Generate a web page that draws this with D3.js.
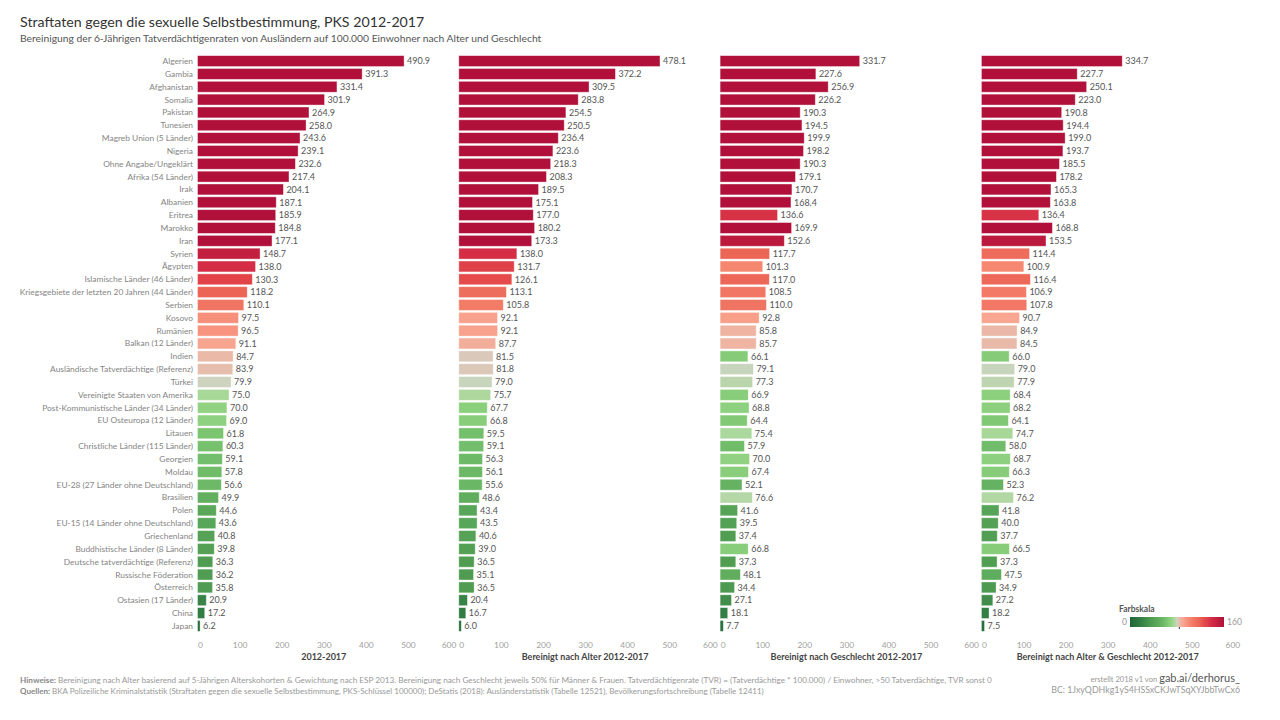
<!DOCTYPE html>
<html><head><meta charset="utf-8">
<script src="https://cdn.jsdelivr.net/npm/d3@7"></script>
<style>
html,body{margin:0;padding:0;background:#fff;}
svg{display:block;font-family:Lato,"Open Sans",sans-serif;}
</style></head>
<body><svg id="c" width="1280" height="720"></svg>
<script>
const categories = ["Algerien","Gambia","Afghanistan","Somalia","Pakistan","Tunesien","Magreb Union (5 Länder)","Nigeria","Ohne Angabe/Ungeklärt","Afrika (54 Länder)","Irak","Albanien","Eritrea","Marokko","Iran","Syrien","Ägypten","Islamische Länder (46 Länder)","Kriegsgebiete der letzten 20 Jahren (44 Länder)","Serbien","Kosovo","Rumänien","Balkan (12 Länder)","Indien","Ausländische Tatverdächtige (Referenz)","Türkei","Vereinigte Staaten von Amerika","Post-Kommunistische Länder (34 Länder)","EU Osteuropa (12 Länder)","Litauen","Christliche Länder (115 Länder)","Georgien","Moldau","EU-28 (27 Länder ohne Deutschland)","Brasilien","Polen","EU-15 (14 Länder ohne Deutschland)","Griechenland","Buddhistische Länder (8 Länder)","Deutsche tatverdächtige (Referenz)","Russische Föderation","Österreich","Ostasien (17 Länder)","China","Japan"];

const rate2012_2017 = [490.9,391.3,331.4,301.9,264.9,258.0,243.6,239.1,232.6,217.4,204.1,187.1,185.9,184.8,177.1,148.7,138.0,130.3,118.2,110.1,97.5,96.5,91.1,84.7,83.9,79.9,75.0,70.0,69.0,61.8,60.3,59.1,57.8,56.6,49.9,44.6,43.6,40.8,39.8,36.3,36.2,35.8,20.9,17.2,6.2];
const rateAlter = [478.1,372.2,309.5,283.8,254.5,250.5,236.4,223.6,218.3,208.3,189.5,175.1,177.0,180.2,173.3,138.0,131.7,126.1,113.1,105.8,92.1,92.1,87.7,81.5,81.8,79.0,75.7,67.7,66.8,59.5,59.1,56.3,56.1,55.6,48.6,43.4,43.5,40.6,39.0,36.5,35.1,36.5,20.4,16.7,6.0];
const rateGeschlecht = [331.7,227.6,256.9,226.2,190.3,194.5,199.9,198.2,190.3,179.1,170.7,168.4,136.6,169.9,152.6,117.7,101.3,117.0,108.5,110.0,92.8,85.8,85.7,66.1,79.1,77.3,66.9,68.8,64.4,75.4,57.9,70.0,67.4,52.1,76.6,41.6,39.5,37.4,66.8,37.3,48.1,34.4,27.1,18.1,7.7];
const rateAlterGeschlecht = [334.7,227.7,250.1,223.0,190.8,194.4,199.0,193.7,185.5,178.2,165.3,163.8,136.4,168.8,153.5,114.4,100.9,116.4,106.9,107.8,90.7,84.9,84.5,66.0,79.0,77.9,68.4,68.2,64.1,74.7,58.0,68.7,66.3,52.3,76.2,41.8,40.0,37.7,66.5,37.3,47.5,34.9,27.2,18.2,7.5];

const panelTitles = ["2012-2017","Bereinigt nach Alter 2012-2017","Bereinigt nach Geschlecht 2012-2017","Bereinigt nach Alter & Geschlecht 2012-2017"];
const xTicks = [0,100,200,300,400,500,600];
const colorStops = [0,18,36,45,56,66,70,75,77.5,79.5,81,84,86,91,97,105,110,118,126,132,138,148,160];
const colorValues = ["#1f6636","#337e44","#4f9c52","#5aa85a","#6bb866","#86cc78","#90d282","#a8d898","#bcd5ae","#c9d5c0","#d8ccbc","#e6bcad","#f0b3a0","#f8a590","#f7917c","#f47e68","#f07462","#ec6556","#e54b4a","#df4049","#d42d45","#c4203f","#b0103a"];

const series = [rate2012_2017, rateAlter, rateGeschlecht, rateAlterGeschlecht];

const svg = d3.select("#c");
const color = d3.scaleLinear().domain(colorStops).range(colorValues).clamp(true);

// Title
svg.append("text").attr("x",20).attr("y",27).attr("font-size",14.2).attr("fill","#333")
  .text("Straftaten gegen die sexuelle Selbstbestimmung, PKS 2012-2017");
svg.append("text").attr("x",20).attr("y",42).attr("font-size",10.3).attr("fill","#555")
  .text("Bereinigung der 6-Jährigen Tatverdächtigenraten von Ausländern auf 100.000 Einwohner nach Alter und Geschlecht");

const y = d3.scaleBand().domain(categories).range([54.6, 632.4]).paddingInner(0.15).paddingOuter(0.08);

// category labels
svg.append("g").selectAll("text").data(categories).join("text")
  .attr("x",193).attr("y",d=>y(d)+y.bandwidth()/2).attr("dy","0.35em")
  .attr("text-anchor","end").attr("font-size",8.4).attr("fill","#858585").text(d=>d);

const panelX0 = 197.5, panelStep = 261.3, panelW = 252.5;
series.forEach((vals,i)=>{
  const x0 = panelX0 + i*panelStep;
  const x = d3.scaleLinear().domain([0,600]).range([x0, x0+panelW]);
  const g = svg.append("g");
  g.selectAll("rect").data(vals).join("rect")
    .attr("x",x(0)).attr("y",(d,j)=>y(categories[j]))
    .attr("width",d=>x(d)-x(0)).attr("height",y.bandwidth())
    .attr("fill",d=>color(d)).attr("stroke","#fff").attr("stroke-opacity",0.5).attr("stroke-width",0.8);
  g.selectAll("text.v").data(vals).join("text").attr("class","v")
    .attr("x",d=>x(d)+3).attr("y",(d,j)=>y(categories[j])+y.bandwidth()/2).attr("dy","0.36em")
    .attr("font-size",9).attr("fill","#555").text(d=>d3.format(".1f")(d));
  const ax = svg.append("g").attr("transform",`translate(0,636)`)
    .call(d3.axisBottom(x).tickValues(xTicks).tickSize(0).tickPadding(6).tickFormat(d3.format("d")));
  ax.select(".domain").remove();
  ax.selectAll("text").attr("font-size",8.4).attr("fill","#a0a0a0").attr("font-family","Lato,sans-serif")
    .attr("dx",d=>d===0?2.5:(d===600?-1.5:0));
  svg.append("text").attr("x",x0+panelW/2).attr("y",660).attr("text-anchor","middle")
    .attr("font-size",9).attr("font-weight","bold").attr("fill","#444").text(panelTitles[i]);
});

// Legend
const lg = svg.append("g");
const defs = svg.append("defs");
const grad = defs.append("linearGradient").attr("id","lgrad").attr("x1","0%").attr("x2","100%");
d3.range(0,161,2).forEach(v=>{
  grad.append("stop").attr("offset",(v/160*100)+"%").attr("stop-color",color(v));
});
const lx = d3.scaleLinear().domain([0,160]).range([1130,1224]);
lg.append("text").attr("x",1119).attr("y",612).attr("font-size",8.5).attr("font-weight","bold").attr("fill","#555").text("Farbskala");
lg.append("rect").attr("x",lx(0)).attr("y",617).attr("width",lx(160)-lx(0)).attr("height",10).attr("fill","url(#lgrad)");
lg.append("rect").attr("x",lx(83.9)-0.5).attr("y",627).attr("width",1.2).attr("height",2).attr("fill","#555");
lg.append("text").attr("x",1127).attr("y",625).attr("text-anchor","end").attr("font-size",8.6).attr("fill","#999").text("0");
lg.append("text").attr("x",1227).attr("y",625).attr("font-size",8.6).attr("fill","#999").text("160");

// Footer
const f1 = svg.append("text").attr("x",20).attr("y",683).attr("font-size",8.2).attr("fill","#999");
f1.append("tspan").attr("font-weight","bold").attr("fill","#888").text("Hinweise: ");
f1.append("tspan").text("Bereinigung nach Alter basierend auf 5-Jährigen Alterskohorten & Gewichtung nach ESP 2013. Bereinigung nach Geschlecht jeweils 50% für Männer & Frauen. Tatverdächtigenrate (TVR) = (Tatverdächtige * 100.000) / Einwohner, >50 Tatverdächtige, TVR sonst 0");
const f2 = svg.append("text").attr("x",20).attr("y",694).attr("font-size",8.0).attr("fill","#999");
f2.append("tspan").attr("font-weight","bold").attr("fill","#888").text("Quellen: ");
f2.append("tspan").text("BKA Polizeiliche Kriminalstatistik (Straftaten gegen die sexuelle Selbstbestimmung, PKS-Schlüssel 100000); DeStatis (2018): Ausländerstatistik (Tabelle 12521), Bevölkerungsfortschreibung (Tabelle 12411)");

const r1 = svg.append("text").attr("x",1240).attr("y",682).attr("text-anchor","end").attr("fill","#999").attr("font-size",7.6);
r1.append("tspan").text("erstellt 2018 v1 von ");
r1.append("tspan").attr("font-size",11).attr("fill","#555").text("gab.ai/derhorus_");
svg.append("text").attr("x",1240).attr("y",693).attr("text-anchor","end").attr("fill","#999").attr("font-size",8.8)
  .text("BC: 1JxyQDHkg1yS4HSSxCKJwTSqXYJbbTwCx6");
</script></body></html>
